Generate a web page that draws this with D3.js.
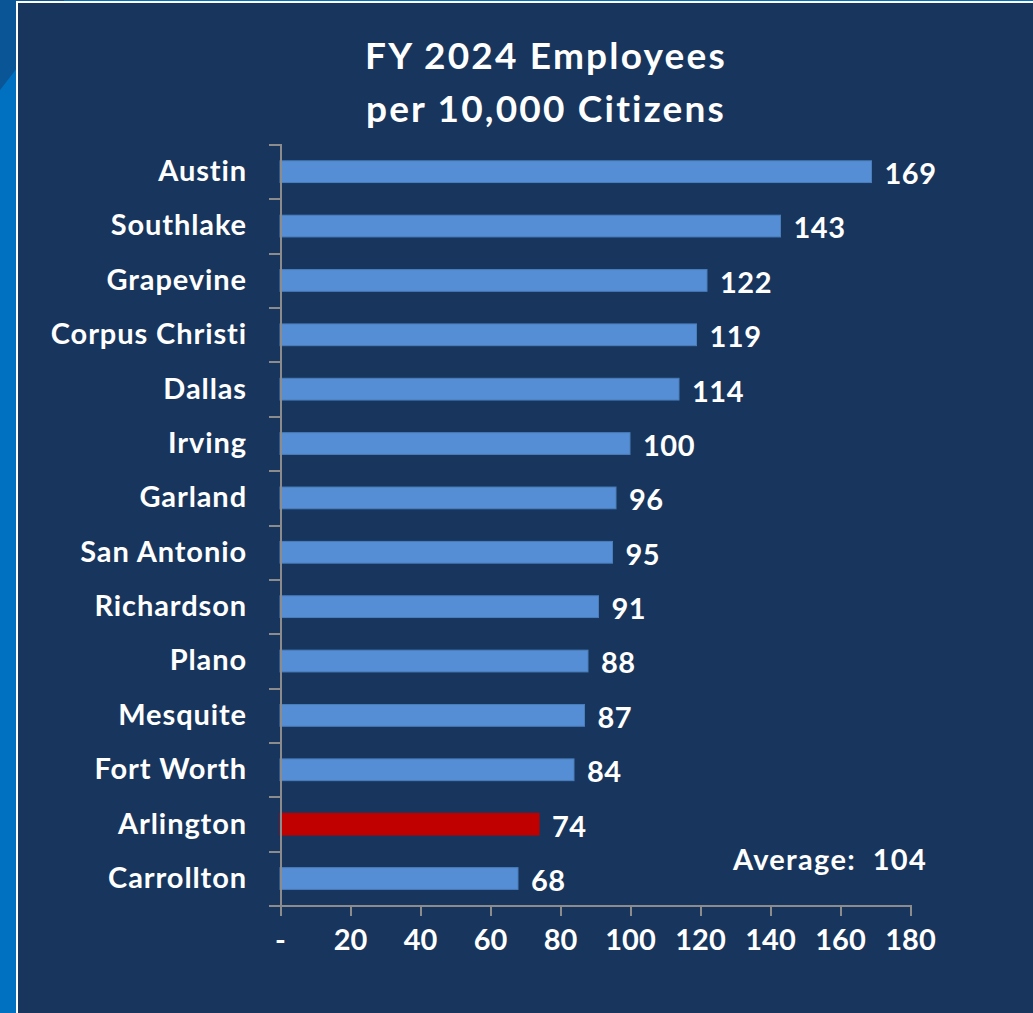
<!DOCTYPE html>
<meta charset="utf-8">
<style>
    body {
        margin: 0;
        background-color: #0070C0;
        overflow: hidden;
    }

    text {
        font-family: Lato, "Open Sans", sans-serif;
        font-weight: bold;
        fill: #ffffff;
    }

    .axis path,
    .axis line {
        fill: none;
        stroke: #8C8C8C;
        stroke-width: 2px;
        shape-rendering: crispEdges;
    }
</style>

<body>
    <svg width="1033" height="1013"></svg>
    <script src="https://d3js.org/d3.v7.min.js"></script>
    <script>
        // chart values
        var cities = ["Austin", "Southlake", "Grapevine", "Corpus Christi", "Dallas", "Irving", "Garland",
            "San Antonio", "Richardson", "Plano", "Mesquite", "Fort Worth", "Arlington", "Carrollton"];
        var employees = [169, 143, 122, 119, 114, 100, 96, 95, 91, 88, 87, 84, 74, 68];
        var xTicks = [0, 20, 40, 60, 80, 100, 120, 140, 160, 180];
        var titleLines = ["FY 2024 Employees", "per 10,000 Citizens"];
        var averageText = "Average:  104";
        var highlight = "Arlington";

        var svg = d3.select("svg"),
            W = +svg.attr("width"),
            H = +svg.attr("height");

        // slide background
        svg.append("polygon")
            .attr("points", "0,0 64,0 64,3 17,3 17,68 0,90")
            .attr("fill", "#0A5596");

        svg.append("rect")
            .attr("x", 17)
            .attr("y", 2)
            .attr("width", W)
            .attr("height", H)
            .attr("fill", "#18365D")
            .attr("stroke", "#ffffff")
            .attr("stroke-width", 2);

        var margin = { top: 144.5, left: 280, right: 910, bottom: 905.7 };

        var x = d3.scaleLinear()
            .domain([0, 180])
            .range([margin.left, margin.right]);

        var y = d3.scaleBand()
            .domain(cities)
            .range([margin.top, margin.bottom])
            .paddingInner(0.6)
            .paddingOuter(0.3);

        var yIndex = d3.scaleLinear()
            .domain([0, cities.length])
            .range([margin.top, margin.bottom]);

        // title
        svg.append("text")
            .attr("x", 546)
            .attr("text-anchor", "middle")
            .style("font-size", "37px")
            .style("letter-spacing", "2.2px")
            .selectAll("tspan")
            .data(titleLines)
            .enter().append("tspan")
            .attr("x", 546)
            .attr("y", function (d, i) { return 69 + i * 53; })
            .text(function (d) { return d; });

        // bars
        svg.selectAll(".bar")
            .data(employees)
            .enter().append("rect")
            .attr("class", "bar")
            .attr("x", x(0))
            .attr("y", function (d, i) { return y(cities[i]); })
            .attr("width", function (d) { return x(d) - x(0); })
            .attr("height", y.bandwidth())
            .attr("fill", function (d, i) { return cities[i] == highlight ? "#C00000" : "#558ED5"; })
            .attr("stroke", function (d, i) { return cities[i] == highlight ? "#C00000" : "#4A7EBB"; })
            .attr("stroke-width", 1);

        // value labels
        svg.selectAll(".val")
            .data(employees)
            .enter().append("text")
            .attr("class", "val")
            .attr("x", function (d) { return x(d) + 13; })
            .attr("y", function (d, i) { return y(cities[i]) + y.bandwidth() / 2 + 2; })
            .attr("dy", "0.36em")
            .style("font-size", "29px")
            .style("letter-spacing", "0.5px")
            .text(function (d) { return d; });

        // category axis
        svg.append("g")
            .attr("class", "axis")
            .attr("transform", "translate(" + margin.left + ",0)")
            .call(d3.axisLeft(yIndex)
                .tickValues(d3.range(cities.length + 1))
                .tickSize(11)
                .tickFormat(""));

        svg.selectAll(".cat")
            .data(cities)
            .enter().append("text")
            .attr("class", "cat")
            .attr("x", 247)
            .attr("y", function (d) { return y(d) + y.bandwidth() / 2 - 1; })
            .attr("dy", "0.36em")
            .attr("text-anchor", "end")
            .style("font-size", "29px")
            .style("letter-spacing", "0.9px")
            .text(function (d) { return d; });

        // value axis
        var xAxis = svg.append("g")
            .attr("class", "axis")
            .attr("transform", "translate(0," + margin.bottom + ")")
            .call(d3.axisBottom(x)
                .tickValues(xTicks)
                .tickSize(10)
                .tickPadding(34)
                .tickFormat(function (d) { return d === 0 ? "-" : d; }));

        xAxis.selectAll("text")
            .attr("dy", null)
            .attr("fill", "#ffffff")
            .style("font-family", "Lato, sans-serif")
            .style("font-weight", "bold")
            .style("font-size", "29px");

        // average note
        svg.append("text")
            .attr("x", 927)
            .attr("y", 870)
            .attr("text-anchor", "end")
            .style("font-size", "29px")
            .style("letter-spacing", "1.3px")
            .style("white-space", "pre")
            .text(averageText);
    </script>
</body>
